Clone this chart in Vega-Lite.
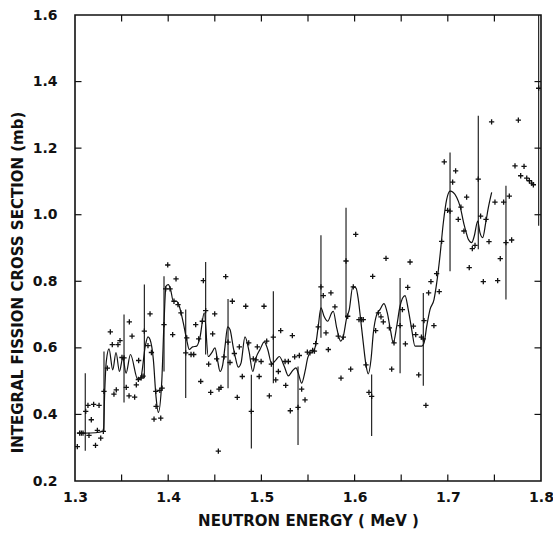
{
  "$schema": "https://vega.github.io/schema/vega-lite/v6.json",
  "width": 466,
  "height": 466,
  "autosize": "none",
  "padding": {"left": 75, "top": 15, "right": 12, "bottom": 52},
  "config": {
    "view": {"stroke": "#111", "strokeWidth": 1.6},
    "font": "DejaVu Sans",
    "axis": {"domain": false, "grid": false, "labelFont": "DejaVu Sans", "titleFont": "DejaVu Sans", "labelColor": "#111", "titleColor": "#111", "labelFontSize": 14, "titleFontSize": 15, "labelFontWeight": "bold", "titleFontWeight": "bold"}
  },
  "datasets": {
    "xt": [{"v":1.35},{"v":1.4},{"v":1.45},{"v":1.5},{"v":1.55},{"v":1.6},{"v":1.65},{"v":1.7},{"v":1.75}],
    "yt": [{"v":0.4},{"v":0.6},{"v":0.8},{"v":1.0},{"v":1.2},{"v":1.4}],
    "pts": [
      {"e":1.3025,"s":0.303},{"e":1.305,"s":0.344},{"e":1.3068,"s":0.344},{"e":1.3086,"s":0.344},{"e":1.3115,"s":0.409},{"e":1.3139,"s":0.427},{"e":1.315,"s":0.337},{"e":1.3175,"s":0.384},{"e":1.320,"s":0.430},{"e":1.322,"s":0.307},{"e":1.324,"s":0.352},{"e":1.3258,"s":0.427},{"e":1.3276,"s":0.329},{"e":1.3304,"s":0.349},{"e":1.3311,"s":0.469},{"e":1.3347,"s":0.539},{"e":1.3379,"s":0.648},{"e":1.340,"s":0.610},{"e":1.3418,"s":0.461},{"e":1.3443,"s":0.474},{"e":1.3461,"s":0.610},{"e":1.3483,"s":0.622},{"e":1.3504,"s":0.571},{"e":1.3526,"s":0.570},{"e":1.355,"s":0.481},{"e":1.3583,"s":0.678},{"e":1.358,"s":0.456},{"e":1.3612,"s":0.635},{"e":1.364,"s":0.452},{"e":1.3658,"s":0.489},{"e":1.3683,"s":0.562},{"e":1.368,"s":0.505},{"e":1.371,"s":0.51},{"e":1.373,"s":0.515},{"e":1.3744,"s":0.65},{"e":1.3783,"s":0.607},{"e":1.3805,"s":0.702},{"e":1.382,"s":0.586},{"e":1.3848,"s":0.386},{"e":1.387,"s":0.424},{"e":1.3867,"s":0.469},{"e":1.391,"s":0.472},{"e":1.392,"s":0.389},{"e":1.3935,"s":0.479},{"e":1.3955,"s":0.67},{"e":1.3973,"s":0.777},{"e":1.3995,"s":0.849},{"e":1.402,"s":0.777},{"e":1.4048,"s":0.64},{"e":1.4062,"s":0.74},{"e":1.4084,"s":0.807},{"e":1.4105,"s":0.73},{"e":1.4137,"s":0.705},{"e":1.4188,"s":0.585},{"e":1.4199,"s":0.63},{"e":1.4245,"s":0.58},{"e":1.4274,"s":0.58},{"e":1.4295,"s":0.67},{"e":1.4327,"s":0.627},{"e":1.4349,"s":0.499},{"e":1.4366,"s":0.68},{"e":1.4377,"s":0.802},{"e":1.4402,"s":0.712},{"e":1.4434,"s":0.551},{"e":1.4456,"s":0.466},{"e":1.4477,"s":0.642},{"e":1.4499,"s":0.702},{"e":1.452,"s":0.567},{"e":1.4538,"s":0.29},{"e":1.4545,"s":0.476},{"e":1.4566,"s":0.481},{"e":1.4599,"s":0.573},{"e":1.4617,"s":0.814},{"e":1.4642,"s":0.617},{"e":1.4663,"s":0.556},{"e":1.4688,"s":0.74},{"e":1.471,"s":0.583},{"e":1.4741,"s":0.451},{"e":1.4763,"s":0.603},{"e":1.4795,"s":0.514},{"e":1.4832,"s":0.725},{"e":1.4864,"s":0.615},{"e":1.4892,"s":0.409},{"e":1.4913,"s":0.567},{"e":1.4942,"s":0.564},{"e":1.4956,"s":0.603},{"e":1.4976,"s":0.514},{"e":1.4997,"s":0.559},{"e":1.5028,"s":0.725},{"e":1.5057,"s":0.62},{"e":1.5085,"s":0.456},{"e":1.5107,"s":0.551},{"e":1.5128,"s":0.632},{"e":1.5154,"s":0.504},{"e":1.5182,"s":0.529},{"e":1.5207,"s":0.652},{"e":1.5254,"s":0.559},{"e":1.5261,"s":0.487},{"e":1.5289,"s":0.559},{"e":1.531,"s":0.411},{"e":1.5332,"s":0.637},{"e":1.5357,"s":0.573},{"e":1.5393,"s":0.421},{"e":1.5407,"s":0.577},{"e":1.5432,"s":0.476},{"e":1.5468,"s":0.444},{"e":1.5493,"s":0.587},{"e":1.5521,"s":0.585},{"e":1.555,"s":0.592},{"e":1.5569,"s":0.59},{"e":1.5582,"s":0.613},{"e":1.561,"s":0.663},{"e":1.5639,"s":0.783},{"e":1.5664,"s":0.757},{"e":1.5693,"s":0.645},{"e":1.5718,"s":0.595},{"e":1.5746,"s":0.765},{"e":1.5789,"s":0.723},{"e":1.5825,"s":0.635},{"e":1.5854,"s":0.509},{"e":1.5879,"s":0.632},{"e":1.5908,"s":0.861},{"e":1.5926,"s":0.695},{"e":1.5958,"s":0.536},{"e":1.5986,"s":0.783},{"e":1.6012,"s":0.941},{"e":1.6047,"s":0.685},{"e":1.6076,"s":0.685},{"e":1.6093,"s":0.685},{"e":1.6122,"s":0.549},{"e":1.6154,"s":0.466},{"e":1.6183,"s":0.454},{"e":1.6194,"s":0.815},{"e":1.6226,"s":0.652},{"e":1.6255,"s":0.705},{"e":1.6283,"s":0.693},{"e":1.6308,"s":0.678},{"e":1.6337,"s":0.869},{"e":1.6373,"s":0.66},{"e":1.6398,"s":0.536},{"e":1.6423,"s":0.615},{"e":1.6488,"s":0.667},{"e":1.6513,"s":0.715},{"e":1.6545,"s":0.612},{"e":1.657,"s":0.782},{"e":1.6595,"s":0.858},{"e":1.6631,"s":0.665},{"e":1.6656,"s":0.64},{"e":1.6688,"s":0.519},{"e":1.6717,"s":0.632},{"e":1.6745,"s":0.682},{"e":1.6737,"s":0.627},{"e":1.6765,"s":0.427},{"e":1.6794,"s":0.765},{"e":1.6819,"s":0.799},{"e":1.6851,"s":0.667},{"e":1.688,"s":0.823},{"e":1.6908,"s":0.769},{"e":1.6934,"s":0.92},{"e":1.6962,"s":1.159},{"e":1.6998,"s":1.013},{"e":1.7024,"s":1.011},{"e":1.7052,"s":1.098},{"e":1.7084,"s":1.132},{"e":1.7112,"s":0.986},{"e":1.7141,"s":1.023},{"e":1.7173,"s":0.951},{"e":1.7202,"s":1.053},{"e":1.723,"s":0.841},{"e":1.7263,"s":0.898},{"e":1.7292,"s":0.908},{"e":1.7327,"s":1.107},{"e":1.7352,"s":0.996},{"e":1.7381,"s":0.799},{"e":1.741,"s":0.986},{"e":1.7442,"s":0.919},{"e":1.747,"s":1.279},{"e":1.7506,"s":1.038},{"e":1.7535,"s":0.802},{"e":1.7563,"s":0.868},{"e":1.7599,"s":1.038},{"e":1.7624,"s":0.916},{"e":1.766,"s":1.056},{"e":1.7685,"s":0.924},{"e":1.7721,"s":1.147},{"e":1.7757,"s":1.284},{"e":1.7782,"s":1.117},{"e":1.7818,"s":1.145},{"e":1.7847,"s":1.11},{"e":1.7875,"s":1.102},{"e":1.79,"s":1.095},{"e":1.7918,"s":1.09},{"e":1.7975,"s":1.38}
    ],
    "bars": [
      {"e":1.311,"lo":0.291,"hi":0.524},{"e":1.3311,"lo":0.348,"hi":0.589},{"e":1.3526,"lo":0.436,"hi":0.70},{"e":1.3744,"lo":0.509,"hi":0.79},{"e":1.3955,"lo":0.529,"hi":0.815},{"e":1.4188,"lo":0.449,"hi":0.715},{"e":1.4402,"lo":0.58,"hi":0.858},{"e":1.4642,"lo":0.479,"hi":0.747},{"e":1.4892,"lo":0.298,"hi":0.519},{"e":1.5128,"lo":0.494,"hi":0.77},{"e":1.5393,"lo":0.308,"hi":0.544},{"e":1.5639,"lo":0.63,"hi":0.938},{"e":1.5908,"lo":0.69,"hi":1.021},{"e":1.6183,"lo":0.335,"hi":0.52},{"e":1.6488,"lo":0.524,"hi":0.81},{"e":1.6737,"lo":0.486,"hi":0.765},{"e":1.7024,"lo":0.83,"hi":1.187},{"e":1.7327,"lo":0.896,"hi":1.297},{"e":1.7624,"lo":0.745,"hi":1.087},{"e":1.7975,"lo":0.967,"hi":1.6}
    ],
    "curve": [
      {"e":1.302,"s":0.344},{"e":1.311,"s":0.344},{"e":1.322,"s":0.345},{"e":1.3305,"s":0.35},{"e":1.3319,"s":0.47},{"e":1.3336,"s":0.56},{"e":1.3365,"s":0.597},{"e":1.3405,"s":0.534},{"e":1.344,"s":0.586},{"e":1.3477,"s":0.529},{"e":1.3513,"s":0.57},{"e":1.3548,"s":0.524},{"e":1.3595,"s":0.58},{"e":1.3673,"s":0.506},{"e":1.3705,"s":0.51},{"e":1.3755,"s":0.607},{"e":1.3783,"s":0.633},{"e":1.3805,"s":0.625},{"e":1.3841,"s":0.564},{"e":1.3869,"s":0.454},{"e":1.3894,"s":0.406},{"e":1.393,"s":0.494},{"e":1.3955,"s":0.675},{"e":1.3976,"s":0.785},{"e":1.4001,"s":0.79},{"e":1.4026,"s":0.775},{"e":1.4055,"s":0.74},{"e":1.409,"s":0.74},{"e":1.4119,"s":0.725},{"e":1.4162,"s":0.675},{"e":1.4198,"s":0.625},{"e":1.4226,"s":0.595},{"e":1.4262,"s":0.603},{"e":1.4305,"s":0.605},{"e":1.434,"s":0.63},{"e":1.4387,"s":0.705},{"e":1.443,"s":0.574},{"e":1.4466,"s":0.585},{"e":1.4502,"s":0.6},{"e":1.4531,"s":0.56},{"e":1.4556,"s":0.529},{"e":1.4585,"s":0.549},{"e":1.461,"s":0.605},{"e":1.4638,"s":0.663},{"e":1.4663,"s":0.655},{"e":1.4699,"s":0.60},{"e":1.4717,"s":0.576},{"e":1.4752,"s":0.542},{"e":1.4781,"s":0.554},{"e":1.4824,"s":0.633},{"e":1.4867,"s":0.59},{"e":1.4907,"s":0.529},{"e":1.4942,"s":0.57},{"e":1.4985,"s":0.595},{"e":1.5031,"s":0.618},{"e":1.5068,"s":0.595},{"e":1.5111,"s":0.552},{"e":1.5157,"s":0.564},{"e":1.5192,"s":0.574},{"e":1.5246,"s":0.544},{"e":1.5289,"s":0.516},{"e":1.5336,"s":0.532},{"e":1.5371,"s":0.54},{"e":1.5396,"s":0.524},{"e":1.5432,"s":0.494},{"e":1.5468,"s":0.529},{"e":1.5497,"s":0.57},{"e":1.5521,"s":0.585},{"e":1.5557,"s":0.59},{"e":1.5583,"s":0.61},{"e":1.561,"s":0.665},{"e":1.5639,"s":0.72},{"e":1.5672,"s":0.695},{"e":1.5711,"s":0.68},{"e":1.5754,"s":0.705},{"e":1.5771,"s":0.71},{"e":1.5808,"s":0.66},{"e":1.5851,"s":0.62},{"e":1.5879,"s":0.635},{"e":1.5915,"s":0.69},{"e":1.5943,"s":0.715},{"e":1.598,"s":0.783},{"e":1.6015,"s":0.78},{"e":1.604,"s":0.745},{"e":1.6065,"s":0.685},{"e":1.6093,"s":0.615},{"e":1.6122,"s":0.549},{"e":1.6147,"s":0.522},{"e":1.6176,"s":0.565},{"e":1.6201,"s":0.645},{"e":1.6237,"s":0.70},{"e":1.6272,"s":0.715},{"e":1.6315,"s":0.733},{"e":1.6351,"s":0.705},{"e":1.6387,"s":0.65},{"e":1.6415,"s":0.615},{"e":1.6452,"s":0.665},{"e":1.6487,"s":0.725},{"e":1.6541,"s":0.757},{"e":1.6576,"s":0.715},{"e":1.6613,"s":0.655},{"e":1.6648,"s":0.605},{"e":1.672,"s":0.605},{"e":1.6745,"s":0.615},{"e":1.6774,"s":0.665},{"e":1.6809,"s":0.715},{"e":1.6852,"s":0.745},{"e":1.6881,"s":0.795},{"e":1.6916,"s":0.876},{"e":1.6952,"s":0.976},{"e":1.6988,"s":1.046},{"e":1.7024,"s":1.071},{"e":1.7059,"s":1.067},{"e":1.7096,"s":1.052},{"e":1.7131,"s":1.026},{"e":1.7174,"s":0.971},{"e":1.7203,"s":0.941},{"e":1.722,"s":0.926},{"e":1.7256,"s":0.916},{"e":1.7284,"s":0.936},{"e":1.7321,"s":0.981},{"e":1.7345,"s":0.946},{"e":1.7374,"s":0.931},{"e":1.7407,"s":0.976},{"e":1.7435,"s":1.021},{"e":1.7471,"s":1.067}
    ]
  },
  "resolve": {"scale": {"x": "independent", "y": "independent"}, "axis": {"x": "independent", "y": "independent"}},
  "layer": [
    {
      "data": {"name": "pts"},
      "mark": {"type": "point", "shape": "M-1,0L1,0M0,-1L0,1", "filled": false, "stroke": "#111", "strokeWidth": 1.3, "size": 28, "opacity": 1, "clip": true},
      "encoding": {
        "x": {"field": "e", "type": "quantitative", "scale": {"domain": [1.3, 1.8], "nice": false, "zero": false},
              "axis": {"orient": "bottom", "values": [1.3, 1.4, 1.5, 1.6, 1.7, 1.8], "format": ".1f", "ticks": false, "tickSize": 0, "labelPadding": 9, "title": "NEUTRON ENERGY ( MeV )", "titlePadding": 9, "labelFlush": false}},
        "y": {"field": "s", "type": "quantitative", "scale": {"domain": [0.2, 1.6], "nice": false, "zero": false},
              "axis": {"orient": "left", "values": [0.2, 0.4, 0.6, 0.8, 1.0, 1.2, 1.4, 1.6], "format": ".1f", "ticks": false, "tickSize": 0, "labelPadding": 18, "title": "INTEGRAL FISSION CROSS SECTION (mb)", "titleX": -58, "titleY": 267, "titleAngle": -90, "titleAlign": "center", "titleBaseline": "middle", "labelFlush": false}}
      }
    },
    {
      "data": {"name": "bars"},
      "mark": {"type": "rule", "stroke": "#111", "strokeWidth": 1.1, "clip": true},
      "encoding": {
        "x": {"field": "e", "type": "quantitative", "scale": {"domain": [1.3, 1.8], "nice": false, "zero": false}, "axis": null},
        "y": {"field": "lo", "type": "quantitative", "scale": {"domain": [0.2, 1.6], "nice": false, "zero": false}, "axis": null},
        "y2": {"field": "hi"}
      }
    },
    {
      "data": {"name": "curve"},
      "mark": {"type": "line", "stroke": "#111", "strokeWidth": 1.2, "interpolate": "monotone", "clip": true},
      "encoding": {
        "x": {"field": "e", "type": "quantitative", "scale": {"domain": [1.3, 1.8], "nice": false, "zero": false}, "axis": null},
        "y": {"field": "s", "type": "quantitative", "scale": {"domain": [0.2, 1.6], "nice": false, "zero": false}, "axis": null}
      }
    },
    {
      "data": {"name": "xt"},
      "mark": {"type": "tick", "orient": "vertical", "color": "#111", "thickness": 1.2, "size": 13, "opacity": 1, "clip": true},
      "encoding": {
        "x": {"field": "v", "type": "quantitative", "scale": {"domain": [1.3, 1.8], "nice": false, "zero": false}, "axis": null},
        "y": {"datum": 0.2, "type": "quantitative", "scale": {"domain": [0.2, 1.6], "nice": false, "zero": false}, "axis": null}
      }
    },
    {
      "data": {"name": "xt"},
      "mark": {"type": "tick", "orient": "vertical", "color": "#111", "thickness": 1.2, "size": 13, "opacity": 1, "clip": true},
      "encoding": {
        "x": {"field": "v", "type": "quantitative", "scale": {"domain": [1.3, 1.8], "nice": false, "zero": false}, "axis": null},
        "y": {"datum": 1.6, "type": "quantitative", "scale": {"domain": [0.2, 1.6], "nice": false, "zero": false}, "axis": null}
      }
    },
    {
      "data": {"name": "yt"},
      "mark": {"type": "tick", "orient": "horizontal", "color": "#111", "thickness": 1.2, "size": 13, "opacity": 1, "clip": true},
      "encoding": {
        "y": {"field": "v", "type": "quantitative", "scale": {"domain": [0.2, 1.6], "nice": false, "zero": false}, "axis": null},
        "x": {"datum": 1.3, "type": "quantitative", "scale": {"domain": [1.3, 1.8], "nice": false, "zero": false}, "axis": null}
      }
    },
    {
      "data": {"name": "yt"},
      "mark": {"type": "tick", "orient": "horizontal", "color": "#111", "thickness": 1.2, "size": 13, "opacity": 1, "clip": true},
      "encoding": {
        "y": {"field": "v", "type": "quantitative", "scale": {"domain": [0.2, 1.6], "nice": false, "zero": false}, "axis": null},
        "x": {"datum": 1.8, "type": "quantitative", "scale": {"domain": [1.3, 1.8], "nice": false, "zero": false}, "axis": null}
      }
    }
  ]
}
